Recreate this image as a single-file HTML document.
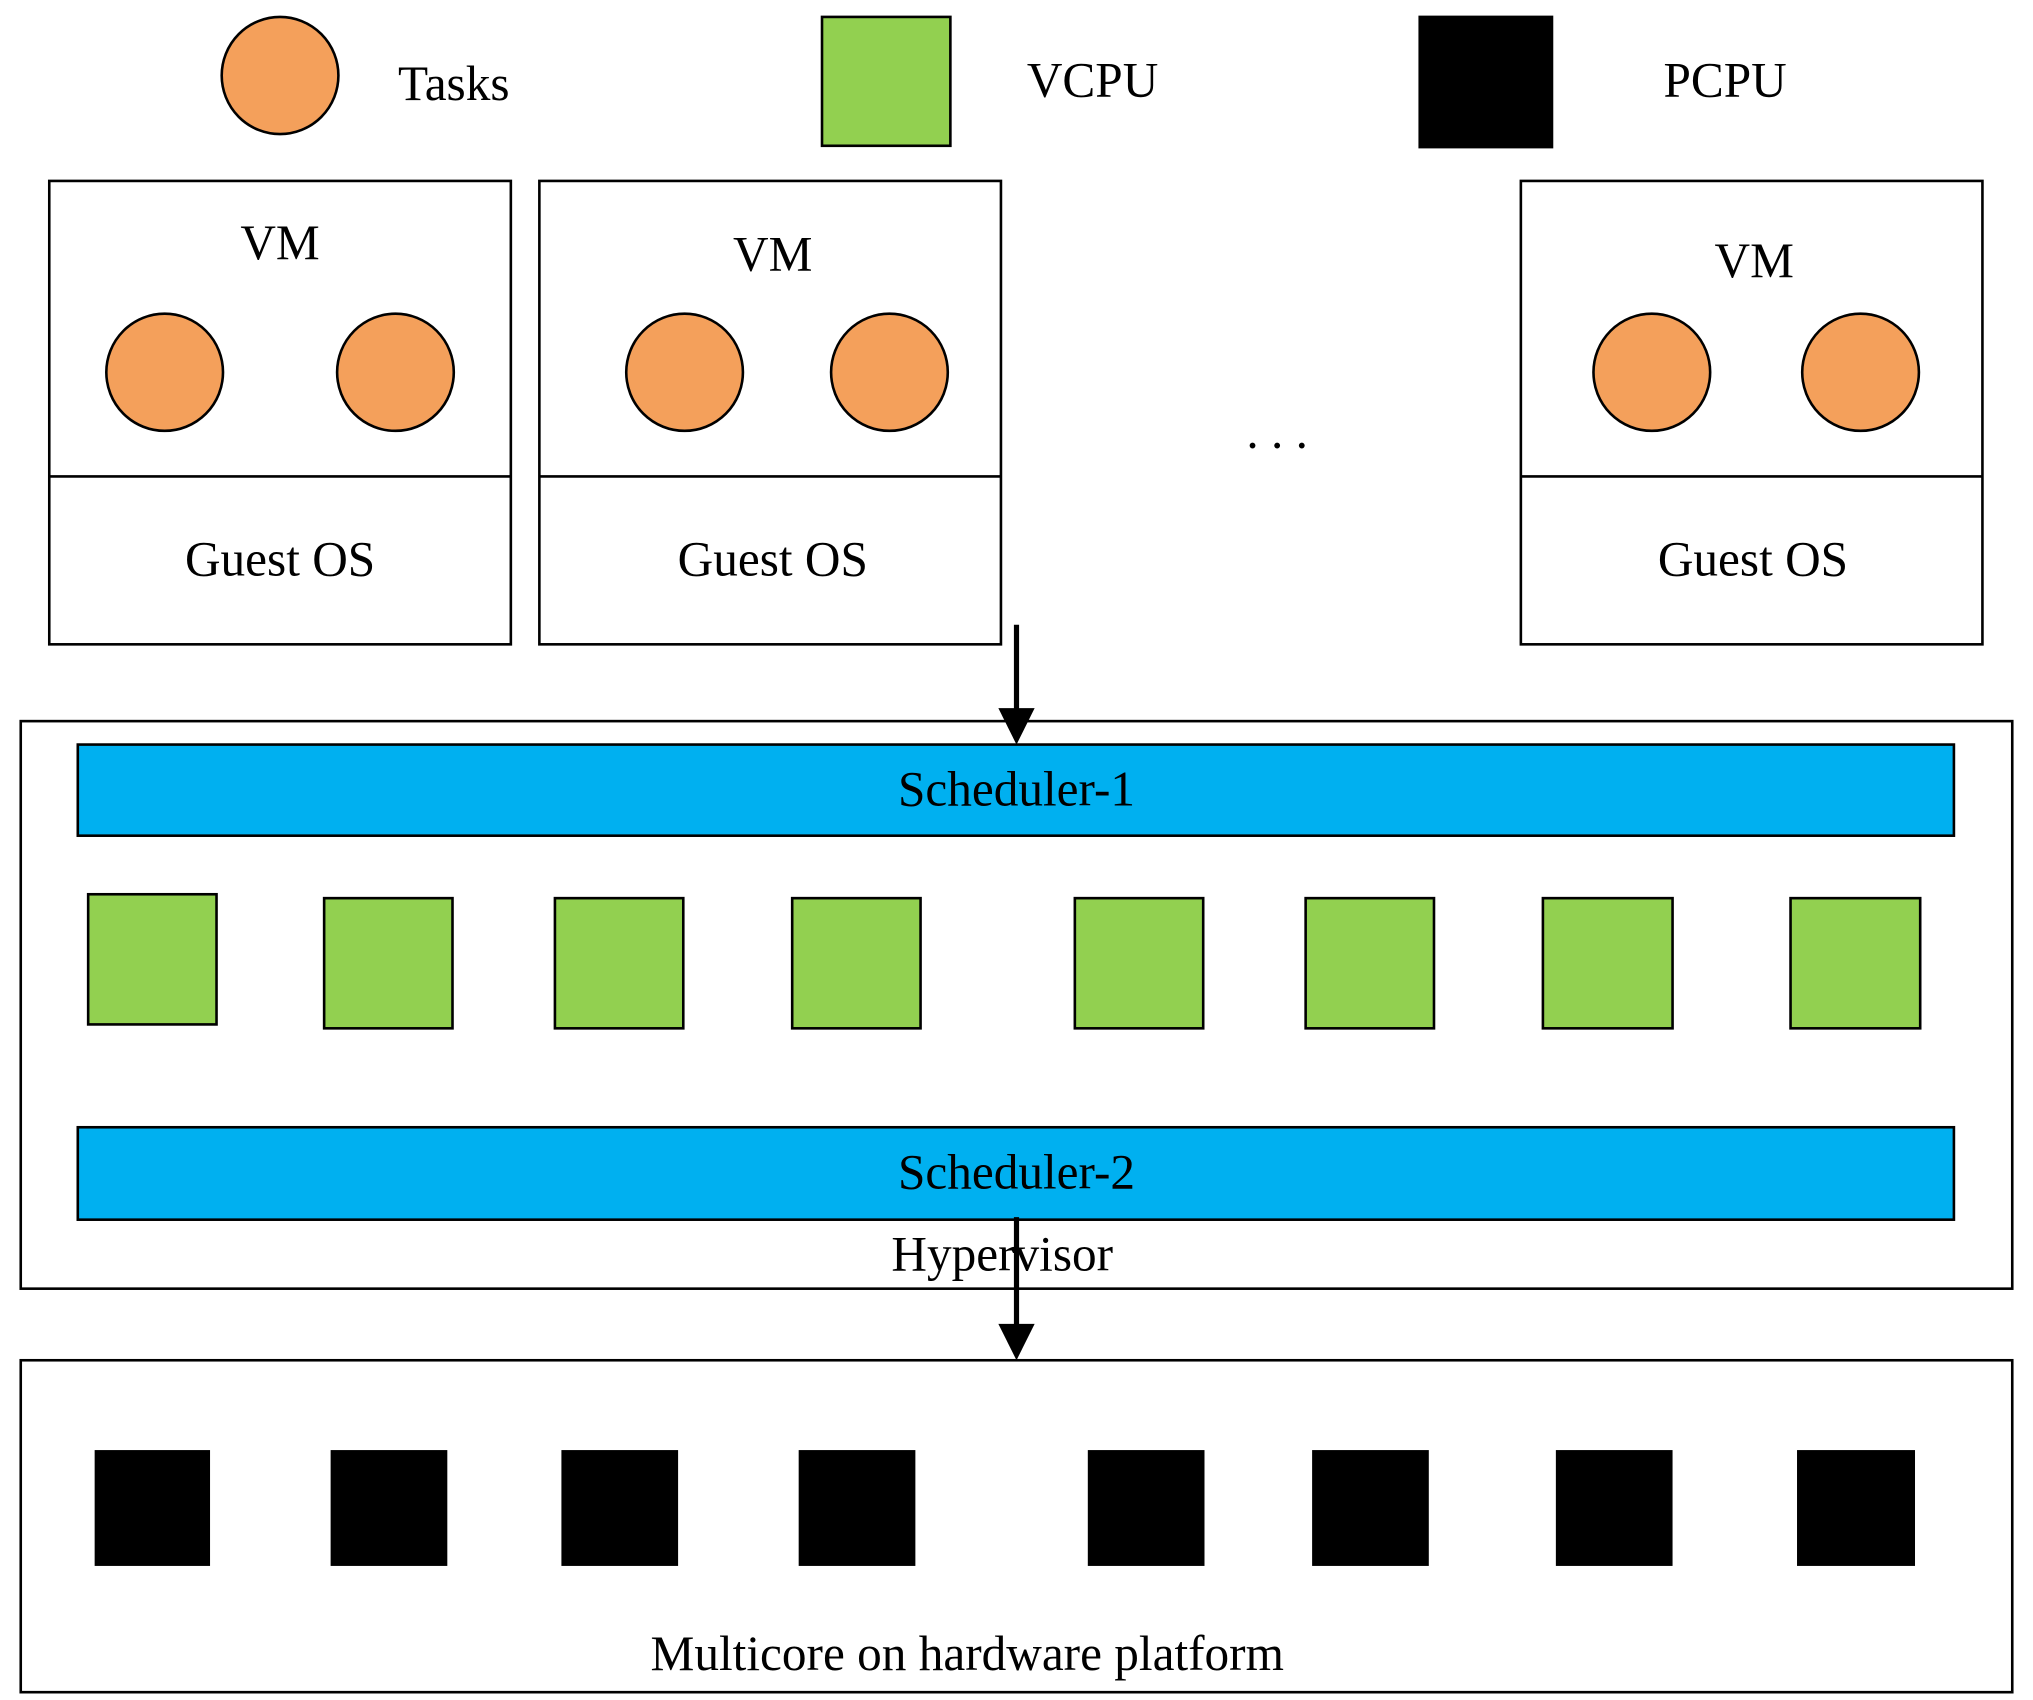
<!DOCTYPE html>
<html><head><meta charset="utf-8"><style>html,body{margin:0;padding:0;background:#fff}svg{display:block}</style></head>
<body>
<svg width="2033" height="1700" viewBox="0 0 1568 1306" preserveAspectRatio="none" xmlns="http://www.w3.org/2000/svg" font-family="Liberation Serif, serif" font-size="38">
<g stroke="#000" stroke-width="2">
<circle cx="216" cy="58" r="45" fill="#F4A05B"/>
<rect x="634" y="13" width="99" height="99" fill="#92D050"/>
<rect x="1095" y="13" width="102" height="100" fill="#000"/>
<rect x="38" y="139" width="356" height="356" fill="#fff"/><line x1="38" y1="366" x2="394" y2="366"/>
<rect x="416" y="139" width="356" height="356" fill="#fff"/><line x1="416" y1="366" x2="772" y2="366"/>
<rect x="1173" y="139" width="356" height="356" fill="#fff"/><line x1="1173" y1="366" x2="1529" y2="366"/>
<g fill="#F4A05B">
<circle cx="127" cy="286" r="45"/><circle cx="305" cy="286" r="45"/>
<circle cx="528" cy="286" r="45"/><circle cx="686" cy="286" r="45"/>
<circle cx="1274" cy="286" r="45"/><circle cx="1435" cy="286" r="45"/>
</g>
<rect x="16" y="554" width="1536" height="436" fill="#fff"/>
<rect x="60" y="572" width="1447" height="70" fill="#00B0F0"/>
<rect x="60" y="866" width="1447" height="71" fill="#00B0F0"/>
<g fill="#92D050">
<rect x="68" y="687" width="99" height="100"/><rect x="250" y="690" width="99" height="100"/>
<rect x="428" y="690" width="99" height="100"/><rect x="611" y="690" width="99" height="100"/>
<rect x="829" y="690" width="99" height="100"/><rect x="1007" y="690" width="99" height="100"/>
<rect x="1190" y="690" width="100" height="100"/><rect x="1381" y="690" width="100" height="100"/>
</g>
<rect x="16" y="1045" width="1536" height="255" fill="#fff"/>
</g>
<g fill="#000">
<rect x="73" y="1114" width="89" height="89"/><rect x="255" y="1114" width="90" height="89"/>
<rect x="433" y="1114" width="90" height="89"/><rect x="616" y="1114" width="90" height="89"/>
<rect x="839" y="1114" width="90" height="89"/><rect x="1012" y="1114" width="90" height="89"/>
<rect x="1200" y="1114" width="90" height="89"/><rect x="1386" y="1114" width="91" height="89"/>
</g>
<g fill="#000">
<text x="307" y="77">Tasks</text>
<text x="792" y="74">VCPU</text>
<text x="1283" y="74">PCPU</text>
<g text-anchor="middle">
<text x="216" y="199">VM</text><text x="596" y="208">VM</text><text x="1353" y="213">VM</text>
<text x="216" y="442">Guest OS</text><text x="596" y="442">Guest OS</text><text x="1352" y="442">Guest OS</text>
<text x="985" y="344">. . .</text>
<text x="784" y="619">Scheduler-1</text>
<text x="784" y="913">Scheduler-2</text>
<text x="773" y="976">Hypervisor</text>
<text x="746" y="1283">Multicore on hardware platform</text>
</g>
</g>
<line x1="784" y1="480" x2="784" y2="548" stroke="#000" stroke-width="4"/>
<path d="M770,544 L798,544 L784,572 z" fill="#000"/>
<line x1="784" y1="935" x2="784" y2="1020" stroke="#000" stroke-width="4"/>
<path d="M770,1017 L798,1017 L784,1045 z" fill="#000"/>
</svg>
</body></html>
